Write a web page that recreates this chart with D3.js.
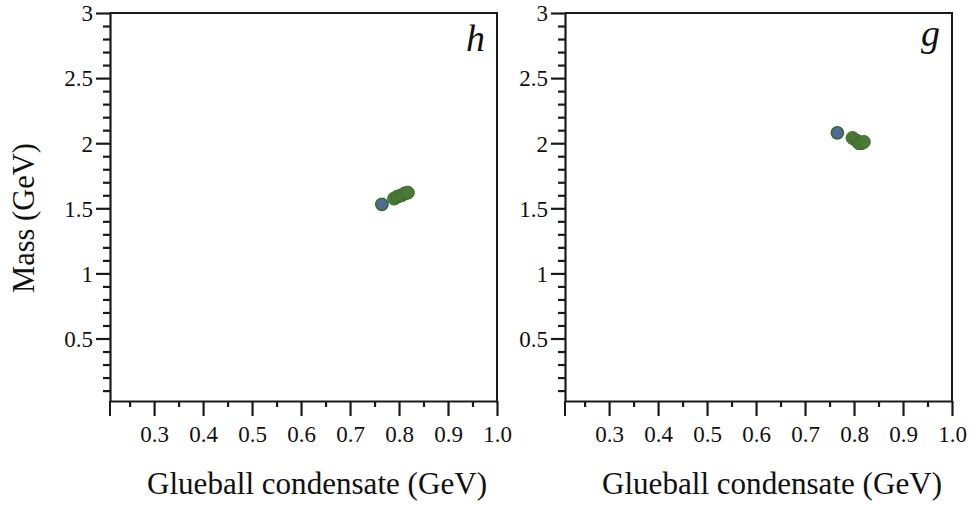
<!DOCTYPE html>
<html>
<head>
<meta charset="utf-8">
<script src="https://cdn.jsdelivr.net/npm/d3@7"></script>
<style>
  body { margin: 0; background: #fff; }
  svg { display: block; }
  text { font-family: "Liberation Serif", "Times New Roman", serif; fill: #111; }
</style>
</head>
<body>
<svg id="chart" width="974" height="506"></svg>
<script>
// Panel labels
const panels = ["h", "g"];

// Blue reference point per panel: [condensate, mass]
const bluePoints = {
  h: [[0.765, 1.53]],
  g: [[0.766, 2.08]]
};

// Green cluster per panel: [condensate, mass]
const greenPoints = {
  h: [[0.790, 1.575], [0.797, 1.59], [0.805, 1.60], [0.812, 1.615], [0.818, 1.62]],
  g: [[0.797, 2.04], [0.805, 2.02], [0.810, 2.00], [0.815, 2.00], [0.820, 2.01]]
};

// Axis ticks
const xMajorTicks = [0.3, 0.4, 0.5, 0.6, 0.7, 0.8, 0.9, 1.0];
const xTickLabels = ["0.3", "0.4", "0.5", "0.6", "0.7", "0.8", "0.9", "1.0"];
const xMinorTicks = [0.25, 0.35, 0.45, 0.55, 0.65, 0.75, 0.85, 0.95];
const yMajorTicks = [0.5, 1, 1.5, 2, 2.5, 3];
const yTickLabels = ["0.5", "1", "1.5", "2", "2.5", "3"];
const yMinorTicks = [0.1, 0.2, 0.3, 0.4, 0.6, 0.7, 0.8, 0.9, 1.1, 1.2, 1.3, 1.4,
  1.6, 1.7, 1.8, 1.9, 2.1, 2.2, 2.3, 2.4, 2.6, 2.7, 2.8, 2.9];

const xTitle = "Glueball condensate (GeV)";
const yTitle = "Mass (GeV)";

const svg = d3.select("#chart");
const W = 387, H = 388;
const panelLeft = [110, 565];
const panelTop = 13;

const x = d3.scaleLinear().domain([0.21, 1.0]).range([0, W]);
const y = d3.scaleLinear().domain([0.02, 3]).range([H, 0]);

const ink = "#1a1a1a";
const green = "#4b7a37";
const blue = "#4d6b9b";

panels.forEach((name, i) => {
  const g = svg.append("g").attr("transform", `translate(${panelLeft[i]},${panelTop})`);

  // frame: top and right edges
  g.append("path")
    .attr("d", `M0,0H${W}V${H}`)
    .attr("fill", "none").attr("stroke", ink).attr("stroke-width", 2);

  // x axis: major ticks
  const xAxis = g.append("g").attr("transform", `translate(0,${H})`)
    .call(d3.axisBottom(x).tickValues(xMajorTicks).tickSize(15).tickSizeOuter(0)
      .tickFormat((d, k) => xTickLabels[k]));
  // x axis: minor ticks
  g.append("g").attr("transform", `translate(0,${H})`)
    .call(d3.axisBottom(x).tickValues(xMinorTicks).tickSize(6).tickSizeOuter(0).tickFormat(""))
    .select(".domain").remove();

  // y axis: major ticks
  const yAxis = g.append("g")
    .call(d3.axisLeft(y).tickValues(yMajorTicks).tickSize(14).tickSizeOuter(0)
      .tickFormat((d, k) => yTickLabels[k]));
  // y axis: minor ticks
  g.append("g")
    .call(d3.axisLeft(y).tickValues(yMinorTicks).tickSize(7).tickSizeOuter(0).tickFormat(""))
    .select(".domain").remove();

  // downward extension of the y axis below the x axis
  g.append("line").attr("x1", 0).attr("x2", 0).attr("y1", H).attr("y2", H + 15)
    .attr("stroke", ink).attr("stroke-width", 2);

  g.selectAll(".domain").attr("stroke", ink).attr("stroke-width", 2.2);
  g.selectAll(".tick line").attr("stroke", ink).attr("stroke-width", 2.2);

  xAxis.selectAll(".tick text")
    .attr("y", 25).attr("dy", "0.71em").attr("fill", "#111")
    .style("font-size", "23px").style("font-family", "Liberation Serif");
  yAxis.selectAll(".tick text")
    .attr("x", -17).attr("dy", "0.34em").attr("fill", "#111")
    .style("font-size", "23px").style("font-family", "Liberation Serif");

  // panel label
  g.append("text")
    .attr("x", W - 12).attr("y", name === "h" ? 38 : 33)
    .attr("text-anchor", "end")
    .style("font-style", "italic").style("font-size", "38px")
    .text(name);

  // markers
  g.selectAll(".green").data(greenPoints[name]).enter().append("circle")
    .attr("cx", d => x(d[0])).attr("cy", d => y(d[1])).attr("r", 6.5)
    .attr("fill", green).attr("stroke", "#3f6a2e").attr("stroke-width", 1);
  g.selectAll(".blue").data(bluePoints[name]).enter().append("circle")
    .attr("cx", d => x(d[0])).attr("cy", d => y(d[1])).attr("r", 6)
    .attr("fill", blue).attr("stroke", "#3f6a2e").attr("stroke-width", 1.8);

  // x title
  const xt = svg.append("text")
    .attr("x", panelLeft[i] + 207)
    .attr("y", 494)
    .attr("text-anchor", "middle")
    .style("font-size", "29px")
    .text(xTitle);
  const len = xt.node().getComputedTextLength();
  xt.style("font-size", (29 * 340 / len).toFixed(2) + "px");
});

// y title
const yt = svg.append("text")
  .attr("transform", "translate(34,218) rotate(-90)")
  .attr("text-anchor", "middle")
  .style("font-size", "29px")
  .text(yTitle);
const ylen = yt.node().getComputedTextLength();
yt.style("font-size", (29 * 150 / ylen).toFixed(2) + "px");
</script>
</body>
</html>
